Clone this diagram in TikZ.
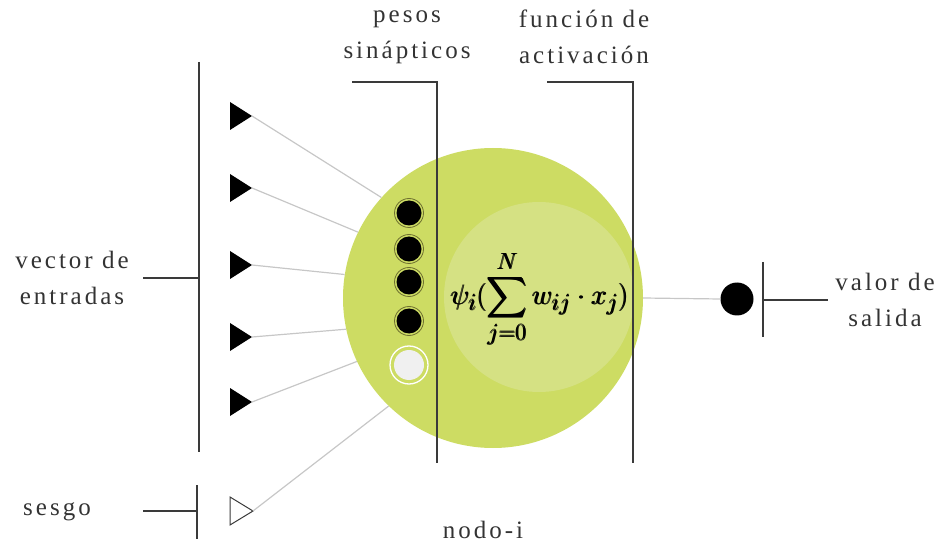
\documentclass[tikz,border=0pt]{standalone}
\usepackage{amsmath}
\usepackage{graphicx}
\usepackage{fontspec}
\setmainfont{Liberation Serif}[LetterSpace=12]
\usepackage{tikz}
\usetikzlibrary{positioning}

\definecolor{nodegreen}{HTML}{CDDC63}
\definecolor{innergreen}{HTML}{D5E183}
\definecolor{ringolive}{HTML}{6E7030}
\definecolor{linegray}{HTML}{3A3A3A}
\definecolor{labelgray}{HTML}{333333}
\definecolor{opengray}{HTML}{F0F0F0}

\newcommand{\actfn}{\scalebox{1.13}{$\displaystyle \pmb{\psi_i(\sum_{j=0}^{N} w_{ij}\cdot x_j)}$}}

\begin{document}
\begin{tikzpicture}[x=1pt, y=-1pt,
    lbl/.style    ={font=\fontsize{25}{36}\selectfont, text=labelgray, align=center, inner sep=0pt},
    formula/.style={font=\fontsize{24.88}{30}\selectfont, inner sep=0pt},
    brk/.style    ={draw=linegray, line width=2pt},
    feed/.style   ={draw=black!22, line width=1.2pt},
    neuron/.style ={circle, fill=nodegreen, minimum size=300pt, inner sep=0pt},
    core/.style   ={circle, fill=innergreen, minimum size=190pt, inner sep=0pt},
    wdot/.style   ={circle, draw=ringolive, line width=0.8pt, minimum size=29pt, inner sep=0pt,
                    path picture={\fill[black] (path picture bounding box.center) circle (12.5pt);}},
    wbias/.style  ={circle, draw=white, line width=1.3pt, minimum size=38pt, inner sep=0pt,
                    path picture={\fill[opengray] (path picture bounding box.center) circle (15pt);}},
    outdot/.style ={circle, fill=black, minimum size=33pt, inner sep=0pt}
  ]
    \useasboundingbox (0,0) rectangle (945,545);

    % --- nodo ---
    \node[neuron] (nodo) at (493,298) {};
    \node[core] (act) at (539,297) {};
    \node[formula] (fn) at (540,299) {\actfn};

    % pesos
    \foreach \y [count=\i] in {213,249,282,321}
      \node[wdot] (w\i) at (409,\y) {};
    \node[wbias] (w0) at (409,365) {};

    % --- entradas ---
    \foreach \y [count=\i] in {116,188,265,337,402}{
      \fill (230,\y-14) -- (252,\y) -- (230,\y+14) -- cycle;
      \coordinate (x\i) at (252,\y);
    }
    % sesgo
    \draw[draw=linegray, line width=1pt, fill=white] (230,497) -- (253,511) -- (230,525) -- cycle;
    \coordinate (x0) at (253,511);

    \foreach \i/\a in {1/138,2/154,3/171,4/192,5/205,0/226}
      \draw[feed] (x\i) -- (nodo.\a);

    % --- salida ---
    \node[outdot] (out) at (737,299) {};
    \draw[feed] (nodo.east) -- (out.west);

    % --- llaves ---
    \draw[brk] (199,62) -- (199,452);
    \draw[brk] (143,278) -- (199,278);
    \draw[brk] (197,485) -- (197,539);
    \draw[brk] (143,511) -- (197,511);
    \draw[brk] (352,82) -| (437,463);
    \draw[brk] (547,82) -| (633,463);
    \draw[brk] (763,262) -- (763,337);
    \draw[brk] (763,300) -- (828,300);

    % --- textos ---
    \node[lbl] (vec)   at (72,278)  {vector de\\entradas};
    \node[lbl] (ses)   at (57,512)  {sesgo};
    \node[lbl] (pesos) at (407,37)  {pesos\\sinápticos};
    \node[lbl] (func)  at (584,37)  {función de\\activación};
    \node[lbl] (val)   at (885,300) {valor de\\salida};
    \node[lbl] (nod)   at (483,530) {nodo-i};
  \end{tikzpicture}
\end{document}
